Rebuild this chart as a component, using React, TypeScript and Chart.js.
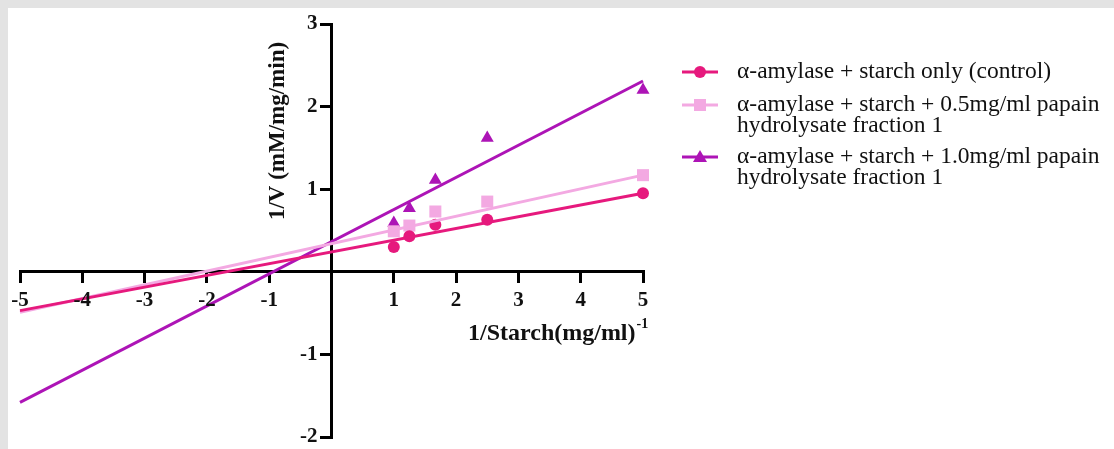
import React, { useEffect, useRef } from "react";
import { Chart, registerables } from "chart.js";

Chart.register(...registerables);

const xValues = [1, 1.25, 1.667, 2.5, 5];
const controlValues = [0.3, 0.43, 0.57, 0.63, 0.95];
const half05Values = [0.49, 0.56, 0.73, 0.85, 1.17];
const one10Values = [0.59, 0.77, 1.11, 1.62, 2.2];

const fitX = [-5, 5];
const controlFit = [-0.47, 0.95];
const half05Fit = [-0.49, 1.17];
const one10Fit = [-1.58, 2.31];

const legendLabels = [
  ["α-amylase + starch only (control)"],
  ["α-amylase + starch + 0.5mg/ml papain", "hydrolysate fraction 1"],
  ["α-amylase + starch + 1.0mg/ml papain", "hydrolysate fraction 1"],
];

const xTitle = "1/Starch(mg/ml)";
const xTitleSup = "-1";
const yTitle = "1/V (mM/mg/min)";

const COLORS = ["#e6197d", "#f3a9e2", "#ad14b6"];
const MARKERS = ["circle", "rect", "triangle"];
const RADII = [6, 8.5, 7.5];
const SERIF = "'Liberation Serif', 'Times New Roman', serif";

const pairs = (xs: number[], ys: number[]) => xs.map((x, i) => ({ x, y: ys[i] }));

const annotPlugin = {
  id: "annot",
  afterDraw(chart: any) {
    const ctx = chart.ctx;
    const xs = chart.scales.x;
    const ys = chart.scales.y;
    const axisX = xs.getPixelForValue(0);
    const axisY = ys.getPixelForValue(0);

    // tick labels
    ctx.save();
    ctx.fillStyle = "#111";
    ctx.font = `bold 21px ${SERIF}`;
    ctx.textBaseline = "middle";
    ctx.textAlign = "center";
    xs.ticks.forEach((t: any) => {
      if (t.value === 0) return;
      ctx.fillText(String(t.value), xs.getPixelForValue(t.value), axisY + 29);
    });
    ctx.textAlign = "right";
    ys.ticks.forEach((t: any) => {
      if (t.value === 0) return;
      ctx.fillText(String(t.value), axisX - 14, ys.getPixelForValue(t.value));
    });
    ctx.restore();

    // y title
    ctx.save();
    ctx.fillStyle = "#111";
    ctx.font = `bold 23px ${SERIF}`;
    ctx.textAlign = "center";
    ctx.textBaseline = "middle";
    ctx.translate(270, 123);
    ctx.rotate(-Math.PI / 2);
    ctx.fillText(yTitle, 0, 0);
    ctx.restore();

    // x title
    ctx.save();
    ctx.fillStyle = "#111";
    ctx.font = `bold 24px ${SERIF}`;
    ctx.textAlign = "left";
    ctx.textBaseline = "middle";
    ctx.fillText(xTitle, 460, 326);
    const w = ctx.measureText(xTitle).width;
    ctx.font = `bold 14px ${SERIF}`;
    ctx.fillText(xTitleSup, 460 + w + 1, 316);
    ctx.restore();

    // legend
    const rows = [64, 97, 149];
    ctx.save();
    legendLabels.forEach((lines, i) => {
      const y = rows[i];
      ctx.strokeStyle = COLORS[i];
      ctx.lineWidth = 3;
      ctx.beginPath();
      ctx.moveTo(674, y);
      ctx.lineTo(710, y);
      ctx.stroke();
      ctx.fillStyle = COLORS[i];
      ctx.beginPath();
      if (i === 0) {
        ctx.arc(692, y, 6, 0, Math.PI * 2);
      } else if (i === 1) {
        ctx.rect(686, y - 6, 12, 12);
      } else {
        ctx.moveTo(692, y - 7);
        ctx.lineTo(699, y + 5);
        ctx.lineTo(685, y + 5);
        ctx.closePath();
      }
      ctx.fill();
      ctx.fillStyle = "#111";
      ctx.font = `23.5px ${SERIF}`;
      ctx.textAlign = "left";
      ctx.textBaseline = "middle";
      lines.forEach((t, j) => ctx.fillText(t, 729, y + j * 21));
    });
    ctx.restore();
  },
};

export default function App() {
  const ref = useRef<HTMLCanvasElement | null>(null);
  useEffect(() => {
    document.documentElement.style.overflow = "hidden";
    document.body.style.margin = "0";
    document.body.style.overflow = "hidden";
    document.body.style.background = "#e3e3e3";
    if (!ref.current) return;
    const fitDs = (ys: number[], i: number) => ({
      type: "line" as const,
      data: pairs(fitX, ys),
      borderColor: COLORS[i],
      borderWidth: 3,
      pointRadius: 0,
      showLine: true,
      fill: false,
    });
    const ptDs = (ys: number[], i: number) => ({
      type: "scatter" as const,
      data: pairs(xValues, ys),
      backgroundColor: COLORS[i],
      borderColor: COLORS[i],
      pointStyle: MARKERS[i],
      pointRadius: RADII[i],
      borderWidth: 0,
      showLine: false,
    });
    const chart = new Chart(ref.current, {
      type: "scatter",
      data: {
        datasets: [
          fitDs(controlFit, 0),
          fitDs(half05Fit, 1),
          fitDs(one10Fit, 2),
          ptDs(controlValues, 0),
          ptDs(half05Values, 1),
          ptDs(one10Values, 2),
        ] as any,
      },
      options: {
        animation: false,
        responsive: false,
        clip: false as any,
        layout: { padding: { left: 12, top: 16, right: 471, bottom: 12 } },
        plugins: { legend: { display: false }, tooltip: { enabled: false } },
        scales: {
          x: {
            type: "linear",
            min: -5,
            max: 5,
            position: { y: 0 } as any,
            ticks: { stepSize: 1, display: false },
            grid: { drawOnChartArea: false, color: "#000", lineWidth: 3, tickLength: 10 },
            border: { color: "#000", width: 3 },
          },
          y: {
            type: "linear",
            min: -2,
            max: 3,
            position: { x: 0 } as any,
            ticks: { stepSize: 1, display: false },
            grid: { drawOnChartArea: false, color: "#000", lineWidth: 3, tickLength: 10 },
            border: { color: "#000", width: 3 },
          },
        },
      },
      plugins: [annotPlugin],
    });
    return () => chart.destroy();
  }, []);
  return (
    <div style={{ paddingLeft: 8, paddingTop: 8, width: 1106, height: 441, overflow: "hidden" }}>
      <canvas ref={ref} width={1106} height={441} style={{ display: "block", background: "#fff" }} />
    </div>
  );
}
